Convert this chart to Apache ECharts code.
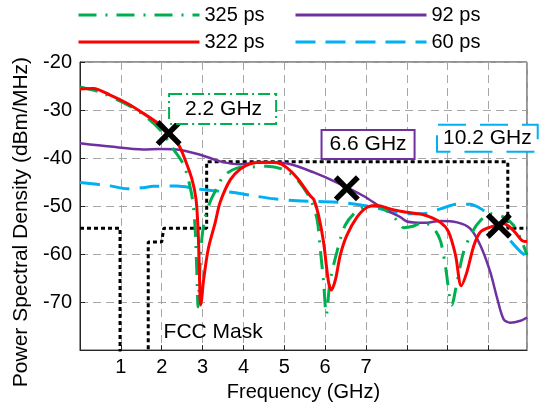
<!DOCTYPE html>
<html>
<head>
<meta charset="utf-8">
<script src="https://cdn.jsdelivr.net/npm/echarts@6/dist/echarts.min.js"></script>
<style>html,body{margin:0;padding:0;background:#fff}#c{width:539px;height:407px}</style>
</head>
<body>
<div id="c"></div>
<script>
// ---- data (GHz, dBm/MHz) ----
const s325 = [[0,-25.2],[0.5,-26.3],[1.0,-28.2],[1.47,-30.5],[1.96,-34.1],[2.29,-38.2],[2.53,-41.3],[2.65,-44.4],[2.76,-49],[2.82,-55],[2.86,-64],[2.89,-71],[2.93,-64],[2.98,-57],[3.06,-52.5],[3.2,-48.8],[3.35,-46.3],[3.51,-43.8],[3.84,-42.1],[4.17,-41.9],[4.57,-41.7],[4.98,-42.4],[5.31,-44.4],[5.64,-48.6],[5.8,-52.7],[5.88,-58.9],[5.96,-65.7],[6.03,-72.6],[6.12,-65.7],[6.29,-59.5],[6.49,-54],[6.78,-51],[7.1,-49.9],[7.43,-50.6],[7.76,-53],[7.92,-54.5],[8.15,-54.2],[8.41,-53.4],[8.66,-54.7],[8.82,-57.2],[8.94,-62.3],[9.1,-70.6],[9.23,-65.7],[9.39,-59.5],[9.6,-55.4],[9.8,-53],[10.04,-51.6],[10.37,-52.3],[10.61,-54],[10.82,-57.5],[10.94,-60.2]];
const s322 = [[0,-25.6],[0.33,-25.5],[0.74,-26.9],[1.15,-28.6],[1.55,-30.7],[1.96,-33.1],[2.21,-35.2],[2.41,-37.2],[2.57,-40.3],[2.74,-44.4],[2.84,-48.6],[2.89,-55],[2.92,-63],[2.95,-70.6],[2.98,-69.2],[3.02,-65.7],[3.14,-58.9],[3.31,-53.4],[3.43,-49.2],[3.68,-44.5],[3.92,-42.3],[4.17,-41.2],[4.49,-40.9],[4.82,-41.0],[5.06,-42],[5.31,-44.1],[5.64,-47.9],[5.72,-48.6],[5.84,-52],[5.96,-57.5],[6.08,-65.7],[6.15,-67.5],[6.25,-65.4],[6.37,-60.2],[6.53,-56.1],[6.78,-52.3],[7.02,-50.3],[7.27,-49.9],[7.59,-50.6],[7.84,-51.1],[8.0,-51.3],[8.41,-51.8],[8.82,-53.4],[9.02,-55.4],[9.19,-60.2],[9.33,-66.6],[9.47,-63.7],[9.64,-58.2],[9.8,-55.4],[10.04,-54.4],[10.37,-53.7],[10.61,-55.1],[10.82,-57.2],[10.94,-57.4]];
const s92 = [[0,-36.9],[0.74,-37.6],[1.55,-38.2],[1.95,-38.1],[2.37,-38.2],[2.94,-39.3],[3.43,-40.7],[3.92,-41.3],[4.3,-41.0],[4.66,-40.9],[5.15,-41.3],[5.72,-43],[6.29,-45.1],[6.94,-47.9],[7.43,-50.6],[7.84,-52.3],[8.0,-53.2],[8.41,-53.5],[8.82,-53.1],[9.23,-53.4],[9.55,-54.7],[9.8,-58.2],[10.04,-63.7],[10.21,-69.2],[10.37,-73.6],[10.53,-74.3],[10.78,-73.9],[10.94,-73.2]];
const s60 = [[0,-45.1],[0.74,-45.8],[1.15,-46.4],[1.5,-46.2],[1.8,-45.9],[2.37,-45.8],[2.94,-46.5],[3.76,-47.2],[4.2,-47.8],[4.66,-48.4],[5.31,-48.9],[6.29,-49.2],[6.94,-49.9],[7.59,-51.0],[8.0,-51.6],[8.41,-51.6],[8.82,-50.6],[9.23,-49.6],[9.55,-49.6],[9.76,-50.3],[10.04,-52],[10.25,-54.2],[10.49,-56.8],[10.78,-59.5],[10.94,-60.5]];
const fccMask = [[0,-54.6],[0.98,-54.6],[0.98,-90],[1.67,-90],[1.67,-57.5],[2.0,-57.5],[2.05,-54.6],[3.1,-54.6],[3.1,-40.8],[10.47,-40.8],[10.47,-54.6],[10.94,-54.6]];
const crossPoints = [[2.17,-34.8],[6.53,-46.3],[10.25,-54.1]];
const annotTexts = ['2.2 GHz','6.6 GHz','10.2 GHz','FCC Mask'];
const annotAt = [[3.49,-29.8],[7.05,-37.2],[9.97,-35.9],[3.26,-76.2]];
const xTickLabels = ['1','2','3','4','5','6','7'];
const yTickLabels = ['-20','-30','-40','-50','-60','-70'];

const GREEN='#00B050', RED='#FF0000', PURPLE='#7030A0', CYAN='#00B0F0';
const FONT='Liberation Sans, Arial, sans-serif';

const annotStyles = [
  {borderColor:GREEN, borderType:[12,4,2,4], borderWidth:2, padding:[4,13,3,15]},
  {borderColor:PURPLE, borderType:'solid', borderWidth:2, padding:[3,7,3,7]},
  {borderColor:CYAN, borderType:[28,14], borderWidth:2, padding:[2,5,2,5]},
  {borderWidth:0, padding:0, backgroundColor:'transparent'}
];

const chart = echarts.init(document.getElementById('c'), null, {renderer:'canvas'});
chart.setOption({
  animation:false,
  backgroundColor:'#fff',
  textStyle:{fontFamily:FONT},
  grid:{left:80,right:12,top:62,bottom:55,show:true,borderColor:'#262626',borderWidth:1,backgroundColor:'transparent'},
  legend:[
    {orient:'vertical',left:72,top:0,itemWidth:121,itemHeight:14,itemGap:7,data:['325 ps','322 ps'],
     itemStyle:{opacity:0},lineStyle:{width:3},
     textStyle:{fontSize:20,color:'#000',fontFamily:FONT,lineHeight:20}},
    {orient:'vertical',left:289,top:0,itemWidth:131,itemHeight:14,itemGap:7,data:['92 ps','60 ps'],
     itemStyle:{opacity:0},lineStyle:{width:3},
     textStyle:{fontSize:20,color:'#000',fontFamily:FONT,lineHeight:20}}
  ],
  xAxis:{type:'value',min:0,max:10.94,interval:1,
    name:'Frequency (GHz)',nameLocation:'middle',nameGap:30,
    nameTextStyle:{fontSize:20,color:'#000',fontFamily:FONT},
    axisLine:{lineStyle:{color:'#262626',width:1}},
    axisTick:{inside:true,length:5,lineStyle:{color:'#262626'}},
    axisLabel:{fontSize:20,color:'#000',margin:7,fontFamily:FONT,showMaxLabel:false,
      formatter:v=>{const s=String(Math.round(v));return xTickLabels.indexOf(s)>=0?s:'';}},
    splitLine:{show:true,lineStyle:{color:'#a6a6a6',type:[8,5],width:1}}
  },
  yAxis:{type:'value',min:-80,max:-20,interval:10,
    name:'Power Spectral Density (dBm/MHz)',nameLocation:'middle',nameGap:44,
    nameTextStyle:{fontSize:21,color:'#000',fontFamily:FONT,padding:[0,32,0,0]},
    axisLine:{show:true,lineStyle:{color:'#262626',width:1}},
    axisTick:{show:true,inside:true,length:5,lineStyle:{color:'#262626'}},
    axisLabel:{fontSize:20,color:'#000',margin:8,fontFamily:FONT,
      formatter:v=>{const s=String(Math.round(v));return yTickLabels.indexOf(s)>=0?s:'';}},
    splitLine:{show:true,lineStyle:{color:'#a6a6a6',type:[8,5],width:1}}
  },
  series:[
    {name:'FCC Mask',type:'line',data:fccMask,symbol:'none',z:3,
     lineStyle:{color:'#000',width:3,type:[4,3]}},
    {name:'60 ps',type:'line',data:s60,symbol:'none',smooth:0.3,z:4,
     itemStyle:{color:CYAN},lineStyle:{color:CYAN,width:3,type:[20,10]}},
    {name:'92 ps',type:'line',data:s92,symbol:'none',smooth:0.3,z:5,
     itemStyle:{color:PURPLE},lineStyle:{color:PURPLE,width:2.5}},
    {name:'325 ps',type:'line',data:s325,symbol:'none',smooth:0.3,z:6,
     itemStyle:{color:GREEN},lineStyle:{color:GREEN,width:3,type:[18,9,2,9]}},
    {name:'322 ps',type:'line',data:s322,symbol:'none',smooth:0.3,z:7,
     itemStyle:{color:RED},lineStyle:{color:RED,width:3}},
    {name:'markers',type:'scatter',data:crossPoints,z:9,symbolSize:26,
     symbol:'path://M0,1.5 L1.5,0 L5,3.5 L8.5,0 L10,1.5 L6.5,5 L10,8.5 L8.5,10 L5,6.5 L1.5,10 L0,8.5 L3.5,5 Z',
     itemStyle:{color:'#000',opacity:1}},
    {name:'annotations',type:'scatter',z:10,symbolSize:1,itemStyle:{color:'rgba(0,0,0,0)',opacity:1},silent:true,
     data:annotAt.map((p,i)=>({value:p,label:Object.assign({show:true,position:'inside',formatter:annotTexts[i],
       fontSize:21,lineHeight:21,color:'#000',opacity:1,fontFamily:FONT,backgroundColor:'#fff'},annotStyles[i])}))}
  ]
});
</script>
</body>
</html>
